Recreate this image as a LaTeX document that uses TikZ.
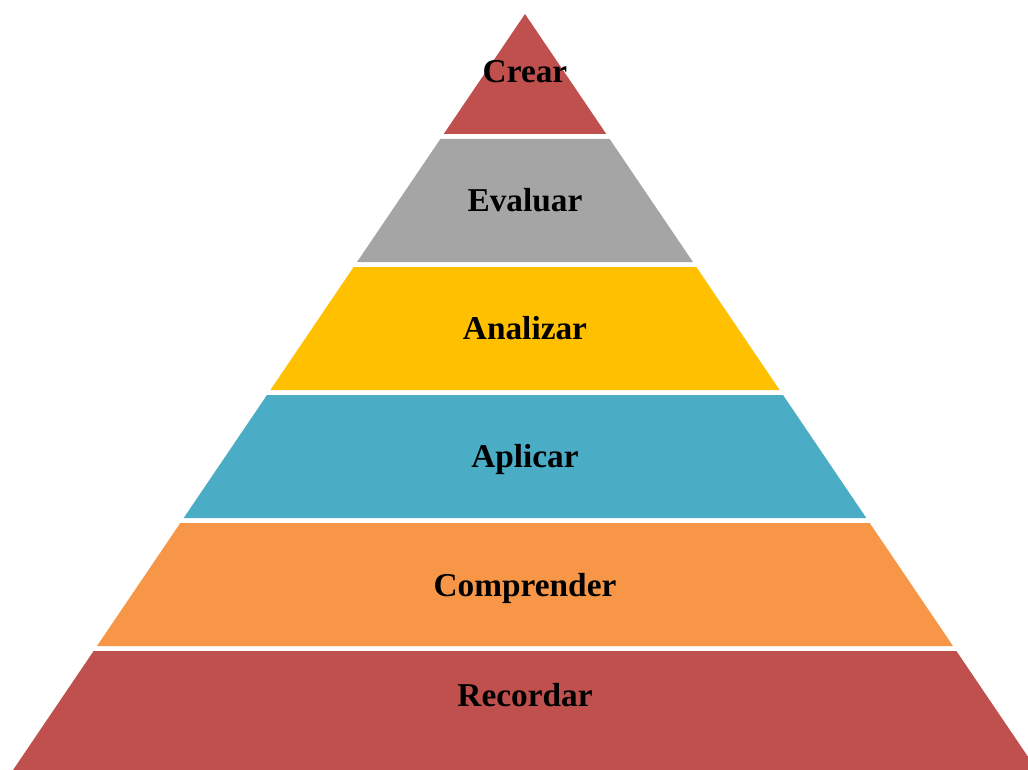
\documentclass[tikz,border=0pt]{standalone}
\usepackage{fontspec}
\setmainfont{Liberation Serif}
\definecolor{cred}{HTML}{C0504D}
\definecolor{cgray}{HTML}{A5A5A5}
\definecolor{cgold}{HTML}{FFC000}
\definecolor{cblue}{HTML}{4BACC6}
\definecolor{corange}{HTML}{F79646}
\newcommand\pyrband[3]{%
  \fill[#3] ({525-(#1-14)*0.6772},#1) -- ({525+(#1-14)*0.6772},#1) --
    ({525+(#2-14)*0.6772},#2) -- ({525-(#2-14)*0.6772},#2) -- cycle;}
\begin{document}
\begin{tikzpicture}[x=0.75pt,y=-0.75pt,
  lbl/.style={font=\bfseries\fontsize{25}{30}\selectfont, anchor=base, inner sep=0pt, text=black}]
\useasboundingbox (0,0) rectangle (1028,770);
\clip (0,0) rectangle (1028,770);
\fill[white] (0,0) rectangle (1028,770);
\pyrband{14}{134}{cred}
\pyrband{139}{262}{cgray}
\pyrband{267}{390}{cgold}
\pyrband{395}{518}{cblue}
\pyrband{523}{646}{corange}
\pyrband{651}{775}{cred}
\node[lbl] (crear) at (525,83) {Crear};
\node[lbl] (evaluar) at (525,211.5) {Evaluar};
\node[lbl] (analizar) at (525,339.5) {Analizar};
\node[lbl] (aplicar) at (525,467.5) {Aplicar};
\node[lbl] (comprender) at (525,596) {Comprender};
\node[lbl] (recordar) at (525,706) {Recordar};
\end{tikzpicture}
\end{document}
